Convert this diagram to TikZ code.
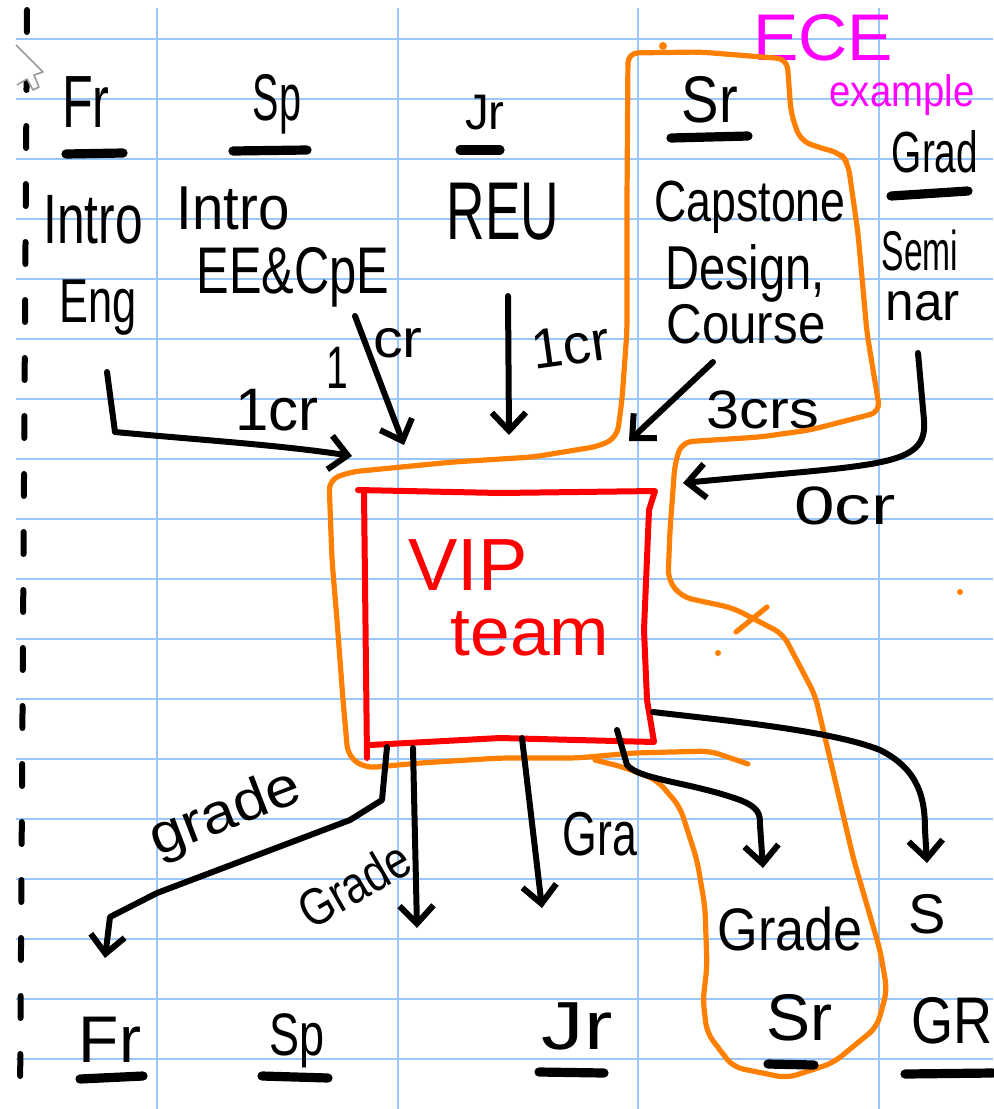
\documentclass[tikz,border=0pt]{standalone}
\usepackage{fontspec}
\usepackage{graphicx}
\setmainfont{Liberation Sans}
\usetikzlibrary{arrows.meta}
\definecolor{gridblue}{RGB}{155,198,250}
\definecolor{orng}{RGB}{255,128,0}
\definecolor{mag}{RGB}{255,0,255}
\definecolor{vred}{RGB}{255,0,0}
\newcommand\hx[2]{\scalebox{#1}[1]{#2}}
\begin{document}
\begin{tikzpicture}[x=0.5pt,y=-0.5pt,
  hand/.style={font=\fontsize{#1}{#1}\selectfont, inner sep=0pt, anchor=base},
  handc/.style={font=\fontsize{#1}{#1}\selectfont, inner sep=0pt, anchor=center},
  gridline/.style={draw=gridblue, line width=1.2pt},
  uline/.style={draw=black, line width=4.6pt, line cap=round},
  conn/.style={draw=black, line width=3pt, line cap=round, line join=round,
    -{Straight Barb[length=9pt,width=17pt]}},
  orngline/.style={draw=orng, line width=2.6pt, line cap=round, line join=round, rounded corners=5pt},
  redline/.style={draw=vred, line width=3pt, line cap=round, line join=round}]
\useasboundingbox (0,0) rectangle (993,1109);
\fill[white] (0,0) rectangle (993,1109);
% grid
\foreach \k in {0,...,17} {\draw[gridline] (16,39+60*\k) -- (993,39+60*\k);}
\foreach \gx in {157,398,638,879} {\draw[gridline] (\gx,8) -- (\gx,1109);}
% left dashed margin
\draw[black, line width=3pt, line cap=round, dash pattern=on 11pt off 18pt] (27,10) -- (20,1105);
% cursor
\draw[gray!80, line width=0.8pt, fill=white, line join=round]
  (16,45) -- (43,72) -- (34,75) -- (39,87) -- (33,90) -- (27,79) -- (17,85);
% headers top
\node[hand=37] (frT) at (86,127) {\hx{0.68}{Fr}};
\node[hand=33] (spT) at (277,120) {\hx{0.6}{Sp}};
\node[hand=25] (jrT) at (485,129) {\hx{0.95}{Jr}};
\node[hand=33] (srT) at (710,122) {\hx{0.85}{Sr}};
\node[hand=29] (grT) at (935,172) {\hx{0.67}{Grad}};
\node[hand=33, text=mag] (ece) at (823,60) {\hx{1.03}{ECE}};
\node[hand=22, text=mag] (exm) at (902,106) {\hx{0.87}{example}};
\draw[uline] (66,154) -- (123,153);
\draw[uline] (233,151) -- (307,150);
\draw[uline] (460,150) -- (500,150);
\draw[uline] (671,138) -- (748,136);
\draw[uline] (891,196) -- (968,191);
% course texts
\node[hand=35] (intro1) at (93,243) {\hx{0.71}{Intro}};
\node[hand=31] (eng) at (98,322) {\hx{0.7}{Eng}};
\node[hand=31] (intro2) at (233,229) {\hx{0.91}{Intro}};
\node[hand=33] (eecpe) at (293,293) {\hx{0.74}{EE\&CpE}};
\node[hand=41] (reu) at (503,239) {\hx{0.65}{REU}};
\node[hand=29] (cap1) at (750,221) {\hx{0.77}{Capstone}};
\node[hand=31] (cap2) at (745,289) {\hx{0.76}{Design,}};
\node[hand=28] (cap3) at (746,343) {\hx{0.88}{Course}};
\node[hand=28] (sem1) at (920,270) {\hx{0.6}{Semi}};
\node[hand=27] (sem2) at (923,320) {\hx{0.95}{nar}};
% credit labels
\node[hand=30] (l1) at (277,430) {1cr};
\node[hand=30] (l2a) at (337,388) {\hx{0.65}{1}};
\node[hand=27] (l2b) at (398,357) {\hx{1.1}{cr}};
\node[hand=28, rotate=8] (l3) at (573,364) {\hx{1.0}{1cr}};
\node[hand=27] (l4) at (763,428) {\hx{1.1}{3crs}};
\node[hand=27] (l5) at (845,524) {\hx{1.35}{0cr}};
% orange outline
\draw[orngline] (748,764) -- (710,751) -- (633,753) -- (577,758) -- (500,758) -- (420,763) -- (365,768)
  -- (348,756) -- (343,700) -- (337,620) -- (332,560) -- (329,480) -- (350,472) -- (453,462)
  -- (533,457) -- (600,446) -- (617,437) -- (622,400) -- (627,330) -- (627,200) -- (628,53)
  -- (700,52) -- (787,59) -- (791,113) -- (800,140) -- (817,147) -- (840,153) -- (848,163)
  -- (858,233) -- (867,333) -- (880,412) -- (810,430) -- (760,437) -- (682,442) -- (675,463)
  -- (670,530) -- (668,580) -- (682,597) -- (733,608) -- (783,634) -- (815,695) -- (835,780)
  -- (853,857) -- (880,950) -- (887,990) -- (877,1027) -- (833,1063) -- (787,1078) -- (733,1067)
  -- (707,1033) -- (703,1000) -- (707,967) -- (705,907) -- (697,860) -- (680,807) -- (657,780)
  -- (623,767) -- (595,760);
\draw[orng, line width=2.6pt, line cap=round] (736,632) -- (767,607);
\fill[orng] (663,46) circle (4);
\fill[orng] (718,653) circle (3);
\fill[orng] (960,592) circle (3);
% VIP box
\draw[redline] (367,758) -- (364,492);
\draw[redline] (358,490) -- (500,493) -- (655,491) -- (649,510) -- (644,630) -- (647,700) -- (654,742) -- (500,738) -- (370,745);
\node[hand=37, text=vred] (vip) at (468,590) {VIP};
\node[hand=34, text=vred] (team) at (530,655) {\hx{1.05}{team}};
% arrow coordinates
\coordinate (a1s) at (107,372); \coordinate (a1c) at (115,432); \coordinate (a1e) at (352,456);
\coordinate (a2s) at (355,316); \coordinate (a2e) at (404,445);
\coordinate (a3s) at (508,296); \coordinate (a3e) at (509,435);
\coordinate (a4s) at (713,362); \coordinate (a4e) at (629,441);
\coordinate (a5s) at (918,353); \coordinate (a5e) at (683,483);
\draw[conn] (a1s) -- (a1c) .. controls (200,440) and (280,445) .. (a1e);
\draw[conn] (a2s) -- (a2e);
\draw[conn] (a3s) -- (a3e);
\draw[conn] (a4s) -- (a4e);
\draw[conn] (a5s) -- (924,420) .. controls (928,468) and (880,464) .. (a5e);
% bottom arrows
\coordinate (b1s) at (387,747); \coordinate (b1e) at (105,958);
\coordinate (b2s) at (413,748); \coordinate (b2e) at (417,928);
\coordinate (b3s) at (522,738); \coordinate (b3e) at (542,908);
\coordinate (b4s) at (617,730); \coordinate (b4e) at (763,868);
\coordinate (b5s) at (653,712); \coordinate (b5e) at (927,863);
\draw[conn] (b1s) -- (382,800) -- (350,820) -- (157,893) -- (110,917) -- (b1e);
\draw[conn] (b2s) -- (b2e);
\draw[conn] (b3s) -- (b3e);
\draw[conn] (b4s) -- (627,765) .. controls (640,780) and (690,782) .. (740,800)
  .. controls (760,808) and (760,815) .. (760,825) -- (b4e);
\draw[conn] (b5s) .. controls (720,720) and (830,730) .. (880,750)
  .. controls (920,770) and (925,800) .. (925,830) -- (b5e);
% grade labels
\node[handc=28, rotate=21] (g1) at (226,815) {\hx{1.1}{grade}};
\node[handc=26, rotate=30] (g2) at (354,884) {\hx{0.83}{Grade}};
\node[hand=31] (g3) at (600,855) {\hx{0.72}{Gra}};
\node[hand=30] (g4) at (790,950) {\hx{0.87}{Grade}};
\node[hand=28] (g5) at (927,933) {S};
% bottom headers
\node[hand=33] (frB) at (110,1062) {Fr};
\node[hand=30] (spB) at (297,1055) {\hx{0.75}{Sp}};
\node[hand=34] (jrB) at (577,1049) {\hx{1.25}{Jr}};
\node[hand=33] (srB) at (799,1040) {Sr};
\node[hand=33] (grB) at (952,1043) {\hx{0.82}{GR}};
\draw[uline] (80,1079) -- (143,1076);
\draw[uline] (262,1076) -- (328,1078);
\draw[uline] (539,1072) -- (604,1073);
\draw[uline] (768,1064) -- (814,1065);
\draw[uline] (905,1074) -- (993,1073);
\end{tikzpicture}
\end{document}
